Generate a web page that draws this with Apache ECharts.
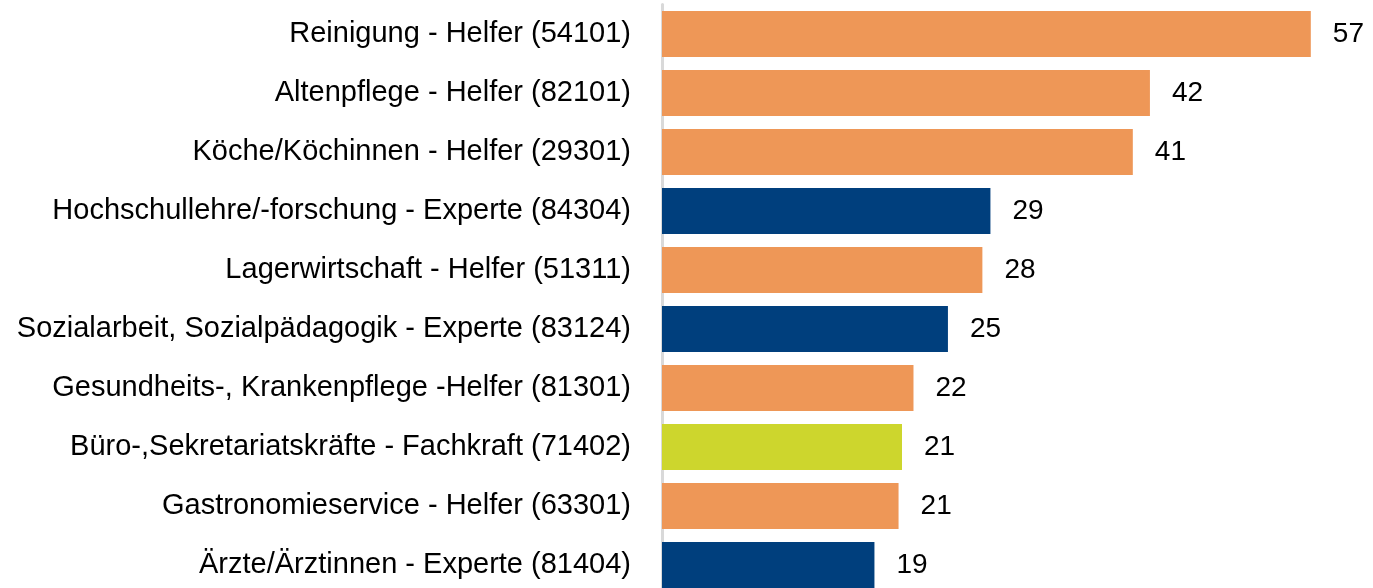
<!DOCTYPE html>
<html>
<head>
<meta charset="utf-8">
<script src="https://cdn.jsdelivr.net/npm/echarts@6/dist/echarts.min.js"></script>
<style>
  html, body { margin: 0; padding: 0; background: #fff; }
  #chart { width: 1373px; height: 588px; }
</style>
</head>
<body>
<div id="chart"></div>
<script>
// categories, top to bottom
var categories = [
    "Reinigung - Helfer (54101)",
    "Altenpflege - Helfer (82101)",
    "Köche/Köchinnen - Helfer (29301)",
    "Hochschullehre/-forschung - Experte (84304)",
    "Lagerwirtschaft - Helfer (51311)",
    "Sozialarbeit, Sozialpädagogik - Experte (83124)",
    "Gesundheits-, Krankenpflege -Helfer (81301)",
    "Büro-,Sekretariatskräfte - Fachkraft (71402)",
    "Gastronomieservice - Helfer (63301)",
    "Ärzte/Ärztinnen - Experte (81404)"
];
// values (labels show them rounded)
var values = [56.5, 42.49, 41.0, 28.6, 27.9, 24.9, 21.9, 20.9, 20.6, 18.5];
// qualification level of each bar -> colour
var levels = ["Helfer", "Helfer", "Helfer", "Experte", "Helfer", "Experte", "Helfer", "Fachkraft", "Helfer", "Experte"];
var levelColors = { Helfer: "#EE9757", Experte: "#003F7D", Fachkraft: "#CDD62D" };

var font = "'Liberation Sans', Arial, sans-serif";

var chart = echarts.init(document.getElementById("chart"));

var barData = [];
for (var i = 0; i < values.length; i++) {
    barData.push({ value: values[i], itemStyle: { color: levelColors[levels[i]] } });
}

chart.setOption({
    animation: false,
    grid: { left: 662, top: 4.5, height: 590, right: 22, outerBoundsMode: "none", containLabel: false },
    xAxis: {
        type: "value",
        min: 0,
        max: 60,
        show: false
    },
    yAxis: {
        type: "category",
        data: categories,
        inverse: true,
        axisLine: { show: true, lineStyle: { color: "#d9d9d9", width: 3 } },
        axisTick: { show: false },
        axisLabel: { color: "#000", fontSize: 29, fontFamily: font, margin: 31 }
    },
    series: [{
        type: "bar",
        data: barData,
        barCategoryGap: "22%",
        label: {
            show: true,
            position: "right",
            distance: 22,
            color: "#000",
            fontSize: 28,
            fontFamily: font,
            formatter: function (p) { return Math.round(p.value); }
        }
    }]
});
</script>
</body>
</html>
